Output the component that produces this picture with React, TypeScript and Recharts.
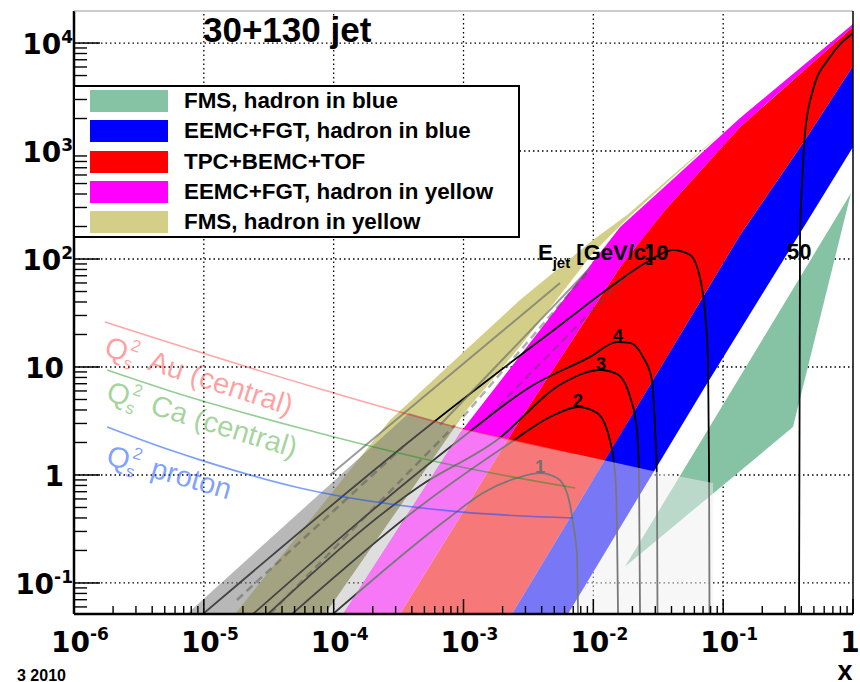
import React from 'react'
import { ComposedChart, Area, Line, XAxis, YAxis } from 'recharts'

document.body.style.margin = '0'

const SANS = '"Liberation Sans", Arial, Helvetica, sans-serif'
const TICK_FONT = '"DejaVu Sans", Verdana, sans-serif'

// axes
const X_DOMAIN = [1e-6, 1]
const Y_DOMAIN = [0.0516, 19800]
const X_MAJOR = [1e-6, 1e-5, 1e-4, 1e-3, 1e-2, 1e-1, 1]
const X_BASE = ['10', '10', '10', '10', '10', '10', '1']
const X_SUP = ['-6', '-5', '-4', '-3', '-2', '-1', '']
const Y_MAJOR = [0.1, 1, 10, 100, 1000, 10000]
const Y_BASE = ['10', '1', '10', '10', '10', '10']
const Y_SUP = ['-1', '', '', '2', '3', '4']
const MINOR_STEPS = [2, 3, 4, 5, 6, 7, 8, 9]
const Y_DECADES = [0.01, 0.1, 1, 10, 100, 1000, 10000]
const X_GRID = [1e-5, 1e-4, 1e-3, 1e-2, 1e-1]
const Y_GRID = [0.1, 1, 10, 100, 1000, 10000]

// plot frame (chart margins below give this box)
const PLOT = { left: 74, top: 11, right: 853, bottom: 614 }

// bands: x, lower edge, upper edge
const KHAKI_X = [1.74e-5, 8.58e-5, 2.72e-4, 1.06e-3, 2.72e-3, 9.94e-3, 1.85e-2, 0.107]
const KHAKI_LO = [0.0516, 0.0516, 0.378, 4.0, 15.4, 114, 240, 1633]
const KHAKI_HI = [0.0516, 0.57, 3.23, 14.7, 41.7, 150, 260, 1633]

const MAGENTA_X = [1.18e-4, 3.24e-4, 9.4e-4, 2.72e-3, 1.61e-2, 3.57e-2, 0.135, 1.0]
const MAGENTA_LO = [0.0516, 0.0516, 0.409, 3.23, 84.3, 284, 1668, 14070]
const MAGENTA_HI = [0.0516, 0.339, 2.45, 12.7, 198, 473, 2021, 14990]

const RED_X = [3.24e-4, 9.4e-4, 2.36e-3, 2.72e-3, 1.61e-2, 2.59e-2, 3.57e-2, 0.135, 0.427, 1.0]
const RED_LO = [0.0516, 0.0516, 0.0516, 0.0686, 2.36, 6.12, 11.6, 167, 1264, 6124]
const RED_HI = [0.0516, 0.409, 2.45, 3.23, 84.3, 175, 284, 1668, 5683, 14070]

const BLUE_X = [2.36e-3, 6.38e-3, 2.59e-2, 7.0e-2, 0.135, 0.427, 1.0]
const BLUE_LO = [0.0516, 0.0516, 0.845, 6.12, 22.0, 207, 1089]
const BLUE_HI = [0.0516, 0.374, 6.12, 44.8, 167, 1264, 6124]

const GREEN_X = [1.75e-2, 0.345, 0.965]
const GREEN_LO = [0.141, 2.78, 408]
const GREEN_HI = [0.141, 52.8, 408]

// pale saturation region and grey forward bands
const PALE_X = [1.18e-4, 3.24e-4, 9.4e-4, 9.91e-4, 3.44e-2, 8.36e-2]
const PALE_LO = [0.0516, 0.0516, 0.0516, 0.0516, 0.0516, 0.0516]
const PALE_HI = [0.0516, 0.339, 2.45, 2.67, 1.04, 0.843]

const GREY_X = [7.42e-6, 1.18e-4, 3.81e-4, 9.91e-4]
const GREY_LO = [0.0516, 0.0516, 0.455, 2.67]
const GREY_HI = [0.0516, 1.05, 3.75, 2.67]

const DARK_X = [7.42e-6, 8.58e-5, 3.81e-4, 8.6e-4]
const DARK_LO = [0.0516, 0.0516, 0.677, 2.81]
const DARK_HI = [0.0516, 0.741, 3.75, 2.81]

// E_jet curves
const C1_X = [9.88e-5, 7.87e-4, 1.41e-3, 2.58e-3, 3.89e-3, 5.25e-3, 6.27e-3, 6.98e-3, 7.49e-3, 7.62e-3]
const C1_Y = [0.0516, 0.409, 0.681, 0.938, 1.04, 0.938, 0.681, 0.359, 0.174, 0.0516]
const C2_X = [4.78e-5, 4.62e-4, 2.28e-3, 4.64e-3, 7.62e-3, 1.07e-2, 1.34e-2, 1.47e-2, 1.52e-2, 1.55e-2]
const C2_Y = [0.0516, 0.511, 1.98, 3.44, 4.26, 3.75, 2.11, 1.04, 0.359, 0.0516]
const C3_X = [3.12e-5, 4.62e-4, 1.81e-3, 5.84e-3, 1.13e-2, 1.52e-2, 1.92e-2, 2.17e-2, 2.25e-2, 2.29e-2]
const C3_Y = [0.0516, 0.791, 2.11, 7.11, 9.38, 8.61, 5.28, 2.61, 0.899, 0.0516]
const C4_X = [2.39e-5, 9.91e-4, 3.25e-3, 9.43e-3, 1.52e-2, 1.92e-2, 2.41e-2, 2.83e-2, 2.99e-2, 3.09e-2, 3.12e-2]
const C4_Y = [0.0516, 2.25, 6.53, 12.4, 17.0, 16.7, 12.4, 7.58, 2.61, 0.899, 0.0516]
const C10_X = [9.85e-6, 5.52e-4, 5.84e-3, 1.42e-2, 2.59e-2, 4.11e-2, 5.56e-2, 6.63e-2, 7.25e-2, 7.65e-2, 7.78e-2, 7.85e-2]
const C10_Y = [0.0516, 2.9, 25.6, 57.4, 93.8, 121, 109, 66.7, 31.6, 10.9, 1.29, 0.0516]
const C50_X = [0.384, 0.391, 0.405, 0.427, 0.492, 0.665, 1.0]
const C50_Y = [0.0516, 174, 505, 1468, 3671, 7421, 12380]

// saturation scales
const QS_AU_X = [1.73e-6, 7.44e-5, 9.4e-4, 7.23e-3]
const QS_AU_Y = [26.1, 6.39, 2.72, 1.58]
const QS_CA_X = [1.8e-6, 5.49e-6, 5.5e-5, 9.4e-4, 7.23e-3]
const QS_CA_Y = [9.38, 6.0, 2.72, 1.19, 0.758]
const QS_P_X = [1.8e-6, 5.49e-6, 9.34e-6, 5.5e-5, 9.4e-4, 6.98e-3]
const QS_P_Y = [2.78, 1.7, 1.38, 0.758, 0.455, 0.4]

// grey guide lines
const GUIDE_SOLID = [
  { x: [9.37e-5, 5.54e-3], y: [1.0, 59.9] },
  { x: [6.59e-4, 9.43e-3], y: [2.9, 82.5] },
]
const GUIDE_DASHED = [
  { x: [9.91e-4, 8.94e-3], y: [3.44, 74.2] },
  { x: [1.34e-3, 1.92e-2], y: [2.9, 75.8] },
  { x: [1.8e-5, 3.42e-4], y: [0.0696, 1.82] },
  { x: [3.23e-5, 8.6e-4], y: [0.0516, 2.9] },
]

const LEGEND_NAMES = [
  'FMS, hadron in blue',
  'EEMC+FGT, hadron in blue',
  'TPC+BEMC+TOF',
  'EEMC+FGT, hadron in yellow',
  'FMS, hadron in yellow',
]
const GREEN = '#86c2a4'
const BLUE = '#0000ff'
const RED = '#ff0000'
const MAGENTA = '#ff00ff'
const KHAKI = '#d3cf88'
const LEGEND_COLORS = [GREEN, BLUE, RED, MAGENTA, KHAKI]

const band = (xs: number[], lo: number[], hi: number[]) => xs.map((x, i) => ({ x, lo: lo[i], hi: hi[i] }))
const curve = (xs: number[], ys: number[]) => xs.map((x, i) => ({ x, y: ys[i] }))
const range = (d: { lo: number; hi: number }) => [d.lo, d.hi]

const majorIndex = (list: number[], v: number) => list.findIndex((m) => Math.abs(m - v) / m < 1e-6)

// dotted grid lines on the decades, drawn under the bands
const GRID_LINES = [
  ...X_GRID.map((v) => curve([v, v], Y_DOMAIN)),
  ...Y_GRID.map((v) => curve(X_DOMAIN, [v, v])),
]

// small inner ticks between the decades (axis decoration only)
const X_MINOR = X_MAJOR.slice(0, -1).flatMap((m) => MINOR_STEPS.map((k) => k * m))
const Y_MINOR = Y_DECADES.flatMap((m) => MINOR_STEPS.map((k) => k * m)).filter((v) => v > Y_DOMAIN[0] && v < Y_DOMAIN[1])
const logPos = (v: number, d: number[], a: number, b: number) =>
  a + ((Math.log10(v) - Math.log10(d[0])) / (Math.log10(d[1]) - Math.log10(d[0]))) * (b - a)

function XTick(props: any) {
  const x = Number(props.x)
  const y = Number(props.y)
  const i = majorIndex(X_MAJOR, Number(props.payload?.value))
  if (i < 0) return <g />
  return (
    <g>
      <path d={`M${x},${y}v-15`} stroke="#000" strokeWidth={1.5} fill="none" />
      <text x={x + (X_SUP[i] ? 6 : -3)} y={y + 38} textAnchor="middle" fontFamily={TICK_FONT} fontWeight="bold" fontSize={28} fill="#000">
        {X_BASE[i]}
        {X_SUP[i] && <tspan dy={-12} fontSize={17}>{X_SUP[i]}</tspan>}
      </text>
    </g>
  )
}

function YTick(props: any) {
  const x = Number(props.x)
  const y = Number(props.y)
  const i = majorIndex(Y_MAJOR, Number(props.payload?.value))
  if (i < 0) return <g />
  return (
    <g>
      <path d={`M${x},${y}h26`} stroke="#000" strokeWidth={1.5} fill="none" />
      <text x={Y_SUP[i] ? x - 1 : x - 10} y={y + 11} textAnchor="end" fontFamily={TICK_FONT} fontWeight="bold" fontSize={28} fill="#000">
        {Y_BASE[i]}
        {Y_SUP[i] && <tspan dy={-11} fontSize={17}>{Y_SUP[i]}</tspan>}
      </text>
    </g>
  )
}

function QsLabel({ x, y, angle, text, color, opacity }: any) {
  return (
    <g transform={`translate(${x},${y}) rotate(${angle})`} fill={color} fillOpacity={opacity} fontFamily={SANS} fontSize={29}>
      <text x={0} y={0}>Q</text>
      <text x={24} y={-13} fontSize={17}>2</text>
      <text x={22} y={6} fontSize={17}>s</text>
      <text x={46} y={0}>{text}</text>
    </g>
  )
}

function LegendBox() {
  return (
    <div
      style={{
        position: 'absolute', left: 73, top: 85, width: 447, height: 153, boxSizing: 'border-box',
        border: '2px solid #000', background: '#fff', fontFamily: SANS,
      }}
    >
      {LEGEND_NAMES.map((name, i) => {
        const cy = 101 + i * 30.3 - 87
        return (
          <React.Fragment key={name}>
            <div style={{ position: 'absolute', left: 15, top: cy - 11, width: 78, height: 22, background: LEGEND_COLORS[i] }} />
            <div style={{ position: 'absolute', left: 109, top: cy - 13, height: 26, lineHeight: '26px', fontSize: 22.4, fontWeight: 'bold', whiteSpace: 'nowrap' }}>
              {name}
            </div>
          </React.Fragment>
        )
      })}
    </div>
  )
}

export default function App() {
  const bandProps = { type: 'linear' as const, dataKey: range, stroke: 'none', fillOpacity: 1, isAnimationActive: false, dot: false, activeDot: false }
  const curveProps = { type: 'monotone' as const, dataKey: 'y', stroke: '#000', strokeWidth: 1.8, dot: false, activeDot: false, isAnimationActive: false }
  return (
    <div style={{ position: 'relative', width: 860, height: 682, background: '#fff', overflow: 'hidden' }}>
      <ComposedChart width={860} height={682} margin={{ top: PLOT.top, right: 860 - PLOT.right, bottom: 0, left: 0 }}>
        <XAxis
          type="number" dataKey="x" scale="log" domain={X_DOMAIN} allowDataOverflow
          ticks={X_MAJOR} interval={0} height={682 - PLOT.bottom} tick={<XTick />} tickLine={false} tickSize={0} tickMargin={0}
          axisLine={{ stroke: '#000', strokeWidth: 2.5 }}
        />
        <YAxis
          type="number" scale="log" domain={Y_DOMAIN} allowDataOverflow
          ticks={Y_MAJOR} interval={0} width={PLOT.left} tick={<YTick />} tickLine={false} tickSize={0} tickMargin={0}
          axisLine={{ stroke: '#000', strokeWidth: 2.5 }}
        />

        {GRID_LINES.map((g, i) => (
          <Line key={`g${i}`} data={g} dataKey="y" type="linear" stroke="#000" strokeWidth={1.3} strokeDasharray="1.5 3"
            dot={false} activeDot={false} isAnimationActive={false} zIndex={50} />
        ))}

        <Area {...bandProps} data={band(KHAKI_X, KHAKI_LO, KHAKI_HI)} fill={KHAKI} name="FMS, hadron in yellow" />
        <Area {...bandProps} data={band(MAGENTA_X, MAGENTA_LO, MAGENTA_HI)} fill={MAGENTA} name="EEMC+FGT, hadron in yellow" />
        <Area {...bandProps} data={band(RED_X, RED_LO, RED_HI)} fill={RED} name="TPC+BEMC+TOF" />
        <Area {...bandProps} data={band(BLUE_X, BLUE_LO, BLUE_HI)} fill={BLUE} name="EEMC+FGT, hadron in blue" />
        <Area {...bandProps} data={band(GREEN_X, GREEN_LO, GREEN_HI)} fill={GREEN} name="FMS, hadron in blue" />

        <Line {...curveProps} data={curve(C1_X, C1_Y)} />
        <Line {...curveProps} data={curve(C2_X, C2_Y)} />
        <Line {...curveProps} data={curve(C3_X, C3_Y)} />
        <Line {...curveProps} data={curve(C4_X, C4_Y)} />
        <Line {...curveProps} data={curve(C10_X, C10_Y)} />
        <Line {...curveProps} data={curve(C50_X, C50_Y)} />

        <Area {...bandProps} data={band(PALE_X, PALE_LO, PALE_HI)} fill="#f0f0f0" fillOpacity={0.5} zIndex={450} />
        <Area {...bandProps} data={band(GREY_X, GREY_LO, GREY_HI)} fill="#a0a0a0" fillOpacity={0.35} zIndex={455} />
        <Area {...bandProps} data={band(DARK_X, DARK_LO, DARK_HI)} fill="#606060" fillOpacity={0.3} zIndex={456} />

        {GUIDE_SOLID.map((g, i) => (
          <Line key={`s${i}`} data={curve(g.x, g.y)} dataKey="y" type="linear" stroke="#707070" strokeOpacity={0.7}
            strokeWidth={2} dot={false} activeDot={false} isAnimationActive={false} zIndex={460} />
        ))}
        {GUIDE_DASHED.map((g, i) => (
          <Line key={`d${i}`} data={curve(g.x, g.y)} dataKey="y" type="linear" stroke="#505050" strokeOpacity={0.45}
            strokeWidth={2.5} strokeDasharray="8 5" dot={false} activeDot={false} isAnimationActive={false} zIndex={460} />
        ))}

        <Line data={curve(QS_AU_X, QS_AU_Y)} dataKey="y" type="monotone" stroke="#ff0000" strokeOpacity={0.35} strokeWidth={1.6}
          dot={false} activeDot={false} isAnimationActive={false} zIndex={470} />
        <Line data={curve(QS_CA_X, QS_CA_Y)} dataKey="y" type="monotone" stroke="#109010" strokeOpacity={0.45} strokeWidth={1.6}
          dot={false} activeDot={false} isAnimationActive={false} zIndex={470} />
        <Line data={curve(QS_P_X, QS_P_Y)} dataKey="y" type="monotone" stroke="#1050ff" strokeOpacity={0.55} strokeWidth={1.6}
          dot={false} activeDot={false} isAnimationActive={false} zIndex={470} />
      </ComposedChart>

      <LegendBox />

      <svg width={860} height={682} style={{ position: 'absolute', left: 0, top: 0, pointerEvents: 'none' }} fontFamily={SANS}>
        <line x1={PLOT.left} x2={PLOT.right} y1={PLOT.top} y2={PLOT.top} stroke="#999" strokeWidth={1} />
        <line x1={PLOT.right} x2={PLOT.right} y1={PLOT.top} y2={PLOT.bottom} stroke="#000" strokeWidth={1.5} />

        {X_MINOR.map((v) => {
          const px = logPos(v, X_DOMAIN, PLOT.left, PLOT.right)
          return <line key={`xm${v}`} x1={px} x2={px} y1={PLOT.bottom} y2={PLOT.bottom - 8} stroke="#000" strokeWidth={1.4} />
        })}
        {Y_MINOR.map((v) => {
          const py = logPos(v, Y_DOMAIN, PLOT.bottom, PLOT.top)
          return <line key={`ym${v}`} x1={PLOT.left} x2={PLOT.left + 13} y1={py} y2={py} stroke="#000" strokeWidth={1.4} />
        })}

        <text x={203} y={42} fontSize={35} fontWeight="bold">30+130 jet</text>

        <text x={644} y={260} fontSize={22} fontWeight="bold">10</text>
        <text x={538} y={260} fontSize={22} fontWeight="bold">
          E<tspan fontSize={15} dy={8}>jet</tspan>
          <tspan dy={-8}> [GeV/c]</tspan>
        </text>
        <text x={787} y={259} fontSize={22} fontWeight="bold">50</text>
        <text x={618} y={342} fontSize={18} fontWeight="bold" textAnchor="middle">4</text>
        <text x={601} y={370} fontSize={18} fontWeight="bold" textAnchor="middle">3</text>
        <text x={578} y={407} fontSize={18} fontWeight="bold" textAnchor="middle">2</text>
        <text x={540} y={473} fontSize={18} fontWeight="bold" textAnchor="middle" fill="#707070">1</text>

        <QsLabel x={103} y={355} angle={18} text="Au (central)" color="#ff0000" opacity={0.38} />
        <QsLabel x={105} y={400} angle={17} text="Ca (central)" color="#30a020" opacity={0.45} />
        <QsLabel x={105} y={464} angle={16} text="proton" color="#1050ff" opacity={0.55} />

        <text x={845} y={680} fontSize={27} fontWeight="bold" textAnchor="middle">x</text>
        <text x={17} y={681} fontSize={16} fontWeight="bold">3 2010</text>
      </svg>
    </div>
  )
}
